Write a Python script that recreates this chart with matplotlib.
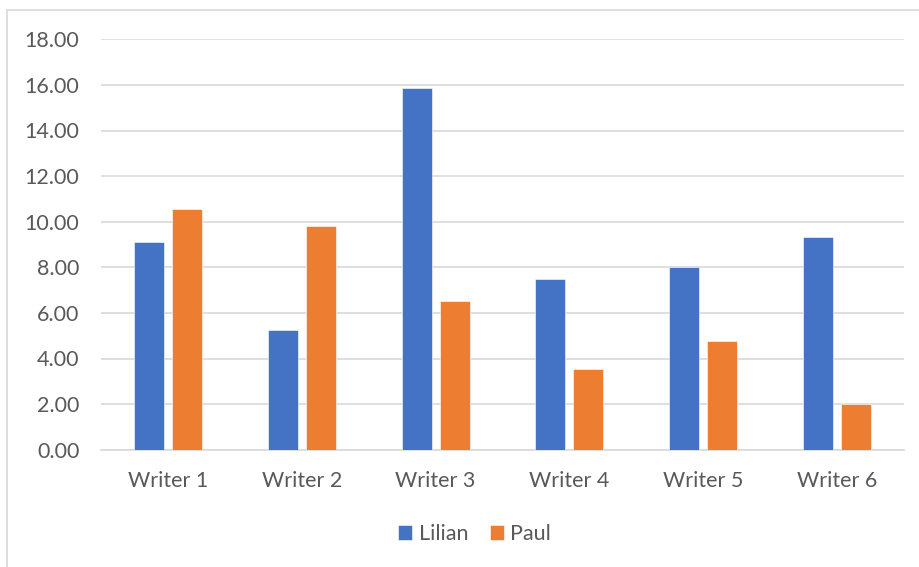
import matplotlib
matplotlib.use('Agg')
import matplotlib.pyplot as plt
import numpy as np
from matplotlib.patches import Rectangle

# scores per writer
writers = ['Writer 1', 'Writer 2', 'Writer 3', 'Writer 4', 'Writer 5', 'Writer 6']
lilian = [9.11, 5.25, 15.85, 7.50, 8.03, 9.34]
paul = [10.56, 9.81, 6.54, 3.54, 4.78, 1.99]

BLUE = '#4472C4'
ORANGE = '#ED7D31'
GRID = '#D9D9D9'
TEXT = '#595959'
FS = 15.5

plt.rcParams['font.family'] = ['Lato', 'DejaVu Sans']

W, H = 919, 567
fig = plt.figure(figsize=(W / 100, H / 100), dpi=100)

# outer chart frame (only left and top edges fall inside the image)
fig.patches.append(Rectangle((7 / W, -0.1), 1.2, 1 - 10 / H + 0.1,
                             transform=fig.transFigure, fill=False,
                             edgecolor=GRID, linewidth=1.2))

left, right = 101 / W, 904 / W
top, bottom = 1 - 39.3 / H, 1 - 449.7 / H
ax = fig.add_axes([left, bottom, right - left, top - bottom])

x = np.arange(len(writers))
bw = 0.224
off = 0.142
ax.bar(x - off, lilian, bw, color=BLUE, edgecolor='white', linewidth=0.4,
       label='Lilian', zorder=3)
ax.bar(x + off, paul, bw, color=ORANGE, edgecolor='white', linewidth=0.4,
       label='Paul', zorder=3)

ax.set_xlim(-0.5, len(writers) - 0.5)
ax.set_ylim(0, 18)
ax.set_yticks(np.arange(0, 19, 2))
ax.set_yticklabels([f'{v:.2f}' for v in np.arange(0, 19, 2)])
ax.set_xticks(x)
ax.set_xticklabels(writers)

ax.grid(axis='y', color=GRID, linewidth=1.2, zorder=0)
for s in ['top', 'right', 'left']:
    ax.spines[s].set_visible(False)
ax.spines['bottom'].set_color(GRID)
ax.spines['bottom'].set_linewidth(1.2)
ax.tick_params(axis='both', length=0, labelsize=FS, colors=TEXT)
ax.tick_params(axis='y', pad=15.5)
ax.tick_params(axis='x', pad=15)

# legend sits below the axes, slightly left of the axes centre
leg_y = (534 - 449.7) / (449.7 - 39.3)
leg = ax.legend(loc='center', bbox_to_anchor=(0.465, -leg_y),
                ncol=2, frameon=False, fontsize=FS, handlelength=0.65,
                handleheight=0.65, handletextpad=0.3, columnspacing=1.0)
for t in leg.get_texts():
    t.set_color(TEXT)

fig.savefig('out.png', dpi=100)
